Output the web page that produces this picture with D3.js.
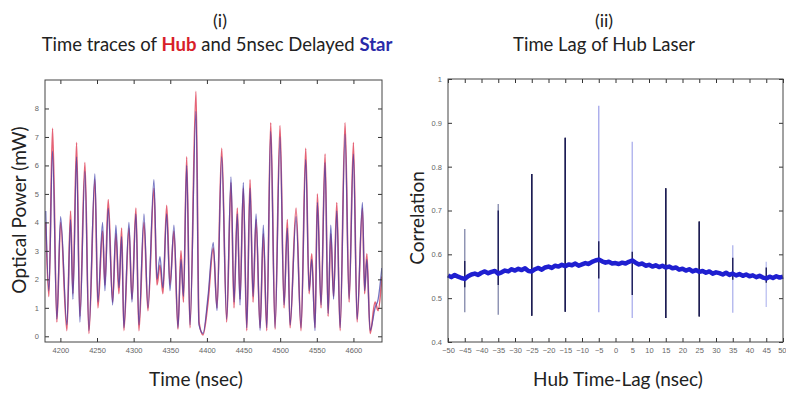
<!DOCTYPE html>
<html>
<head>
<meta charset="utf-8">
<script src="https://cdn.jsdelivr.net/npm/d3@7"></script>
<style>
  body { margin: 0; background: #fff; }
  svg { display: block; }
  .tick text { font-family: "Liberation Sans", sans-serif; font-size: 7.5px; fill: #666; }
  .lbl { font-family: Lato, "Open Sans", sans-serif; fill: #222; }
</style>
</head>
<body>
<svg id="chart" width="786" height="401"></svg>
<script>
// ---- panel (i): local extremes of the two traces ----
const traceTime = [4180, 4184.3, 4189.3, 4195.2, 4200.3, 4208.9, 4213.9, 4217.1, 4222.1, 4226.6,
  4233.5, 4238.9, 4247.1, 4251.2, 4257.6, 4260.8, 4265.3, 4271.3, 4275.8, 4279.9,
  4283.6, 4286.7, 4293.6, 4297.7, 4303.1, 4307.2, 4314.1, 4319.5, 4327.7, 4331.8,
  4335.9, 4340, 4345.1, 4349.6, 4355, 4360.5, 4364.6, 4368, 4372.4, 4376.9,
  4385.1, 4389.2, 4394.7, 4401.5, 4408.7, 4413.8, 4420.2, 4427, 4432.9, 4437,
  4441.5, 4445.2, 4449.7, 4454.4, 4458.9, 4463, 4467.1, 4472.6, 4477, 4481.7,
  4487.1, 4493, 4499.8, 4505.3, 4509.8, 4513.5, 4521.7, 4528.5, 4534.9, 4539.5,
  4543.1, 4547.6, 4550.8, 4555.8, 4561.3, 4565.4, 4569.1, 4572.9, 4577.3, 4581.8,
  4588.6, 4594.1, 4600, 4605, 4612.3, 4615.3, 4618.3, 4622.8, 4629.6, 4633.7, 4638.8];

const hubPower = [4.0, 1.4, 7.3, 0.5, 4.0, 0.2, 4.4, 1.5, 6.8, 0.7,
  6.1, 0.1, 5.5, 1.0, 3.7, 1.8, 4.8, 1.2, 3.6, 1.5,
  3.8, 0.2, 3.8, 1.3, 4.5, 0.2, 4.0, 0.9, 5.2, 1.8,
  2.5, 1.5, 4.6, 1.8, 3.7, 0.25, 3.0, 1.2, 6.3, 0.3,
  8.6, 0.5, 0.05, 1.2, 3.1, 1.0, 6.6, 0.5, 5.4, 1.0,
  4.5, 1.3, 5.2, 0.2, 5.5, 1.2, 4.1, 0.3, 3.6, 0.2,
  7.5, 0.25, 7.4, 1.0, 4.1, 0.3, 4.5, 0.2, 6.6, 1.5,
  2.9, 0.3, 5.0, 1.0, 6.4, 0.7, 3.6, 1.4, 4.7, 0.2,
  7.5, 1.2, 6.8, 0.5, 4.5, 1.5, 2.9, 0.1, 1.2, 0.9, 2.1];

const starPower = [4.4, 1.6, 6.5, 0.6, 4.2, 0.4, 4.1, 1.3, 6.3, 0.5,
  5.8, 0.2, 5.7, 1.2, 4.0, 1.6, 4.5, 1.1, 3.9, 1.7,
  3.5, 0.3, 4.0, 1.2, 4.3, 0.4, 4.3, 1.0, 5.5, 2.0,
  2.8, 1.7, 4.3, 1.6, 3.9, 0.3, 2.7, 1.4, 6.0, 0.4,
  7.9, 0.4, 0.1, 1.4, 3.3, 0.9, 6.3, 0.6, 5.6, 1.2,
  4.3, 1.1, 5.4, 0.3, 5.2, 1.4, 4.3, 0.2, 3.9, 0.3,
  7.2, 0.3, 7.0, 1.1, 3.8, 0.4, 4.2, 0.3, 6.2, 1.6,
  2.7, 0.2, 4.7, 1.1, 6.1, 0.8, 3.9, 1.3, 4.4, 0.3,
  7.1, 1.3, 6.4, 0.6, 4.7, 1.6, 2.7, 0.2, 1.0, 1.3, 2.4];

const timeTicks = [4200, 4250, 4300, 4350, 4400, 4450, 4500, 4550, 4600];
const powerTicks = [0, 1, 2, 3, 4, 5, 6, 7, 8];

// ---- panel (ii): correlation vs lag ----
const lags = d3.range(-50, 51);
const baseCorr = [0.552, 0.548, 0.553, 0.549, 0.546, 0.544,
  0.550, 0.554, 0.556, 0.553, 0.558,
  0.561, 0.557, 0.560, 0.562, 0.556,
  0.559, 0.563, 0.561, 0.566, 0.563,
  0.567, 0.564, 0.568, 0.562, 0.561,
  0.566, 0.569, 0.565, 0.570, 0.572,
  0.569, 0.574, 0.572, 0.576, 0.573,
  0.577, 0.575, 0.579, 0.574, 0.577,
  0.580, 0.578, 0.583, 0.586, 0.588,
  0.584, 0.581, 0.583, 0.579, 0.580,
  0.578, 0.581, 0.579, 0.583, 0.586,
  0.581, 0.577, 0.579, 0.574, 0.576,
  0.572, 0.575, 0.571, 0.574, 0.570,
  0.572, 0.568, 0.570, 0.565, 0.567,
  0.563, 0.566, 0.561, 0.564, 0.560,
  0.562, 0.558, 0.561, 0.556, 0.559,
  0.557, 0.554, 0.558, 0.553, 0.556,
  0.552, 0.555, 0.551, 0.554, 0.550,
  0.552, 0.548, 0.551, 0.547, 0.545,
  0.549, 0.546, 0.550, 0.547, 0.549];

const spikeLag = [-45, -35, -25, -15, -5, 5, 15, 25, 35, 45];
const spikeTop = [0.658, 0.715, 0.783, 0.866, 0.939, 0.857, 0.751, 0.675, 0.621, 0.583];
const spikeBottom = [0.468, 0.462, 0.460, 0.469, 0.468, 0.455, 0.455, 0.458, 0.467, 0.480];
const coreTop = [0.585, 0.700, 0.783, 0.866, 0.630, 0.606, 0.751, 0.675, 0.592, 0.570];
const coreBottom = [0.525, 0.530, 0.460, 0.469, 0.545, 0.507, 0.455, 0.458, 0.542, 0.535];
const spikeColor = ["#8a8fb0", "#8a8fb0", "#2a2a40", "#2a2a48", "#a9acec", "#b0b4ee", "#24243a", "#30303e", "#b4b8ee", "#c0c4f2"];

const lagTicks = d3.range(-50, 51, 5);
const corrTicks = [0.4, 0.5, 0.6, 0.7, 0.8, 0.9, 1];

const svg = d3.select("#chart");
svg.append("rect").attr("width", 786).attr("height", 401).attr("fill", "#fff");

function frame(g, x, y, xt, yt, xfmt, yfmt) {
  const [x0, x1] = x.range(), [y0, y1] = y.range();
  g.append("g").attr("transform", `translate(0,${y0})`)
    .call(d3.axisBottom(x).tickValues(xt).tickSize(-4).tickPadding(6).tickFormat(xfmt));
  g.append("g").attr("transform", `translate(0,${y1})`)
    .call(d3.axisTop(x).tickValues(xt).tickSize(-4).tickFormat(""));
  g.append("g").attr("transform", `translate(${x0},0)`)
    .call(d3.axisLeft(y).tickValues(yt).tickSize(-4).tickPadding(6).tickFormat(yfmt));
  g.append("g").attr("transform", `translate(${x1},0)`)
    .call(d3.axisRight(y).tickValues(yt).tickSize(-4).tickFormat(""));
  g.selectAll(".domain").remove();
  g.selectAll(".tick line").attr("stroke", "#333");
  g.append("rect").attr("x", x0).attr("y", y1).attr("width", x1 - x0).attr("height", y0 - y1)
    .attr("fill", "none").attr("stroke", "#444").attr("stroke-width", 1);
}

// ---- panel (i) ----
const x1s = d3.scaleLinear().domain([4179, 4639]).range([45, 382]);
const y1s = d3.scaleLinear().domain([-0.2, 9]).range([342, 80]);
const g1 = svg.append("g");
g1.append("defs").append("clipPath").attr("id", "c1").append("rect")
  .attr("x", 45).attr("y", 80).attr("width", 337).attr("height", 262);
const traceLine = v => d3.line().x((d, i) => x1s(traceTime[i])).y(d => y1s(d)).curve(d3.curveMonotoneX)(v);
const plot1 = g1.append("g").attr("clip-path", "url(#c1)");
plot1.append("path").attr("d", traceLine(hubPower)).attr("fill", "none")
  .attr("stroke", "#e0485e").attr("stroke-width", 1.6).attr("stroke-opacity", 0.85);
plot1.append("path").attr("d", traceLine(starPower)).attr("fill", "none")
  .attr("stroke", "#3a3aa8").attr("stroke-width", 1.3).attr("stroke-opacity", 0.7);
frame(g1, x1s, y1s, timeTicks, powerTicks, d3.format("d"), d3.format("d"));

// ---- panel (ii) ----
const x2s = d3.scaleLinear().domain([-50, 50]).range([448, 783]);
const y2s = d3.scaleLinear().domain([0.4, 1]).range([342, 79]);
const g2 = svg.append("g");
g2.selectAll("line.spike").data(spikeLag).join("line").attr("class", "spike")
  .attr("x1", d => x2s(d)).attr("x2", d => x2s(d))
  .attr("y1", (d, i) => y2s(spikeTop[i])).attr("y2", (d, i) => y2s(spikeBottom[i]))
  .attr("stroke", (d, i) => spikeColor[i]).attr("stroke-width", 1.4);
g2.selectAll("line.core").data(spikeLag).join("line").attr("class", "core")
  .attr("x1", d => x2s(d)).attr("x2", d => x2s(d))
  .attr("y1", (d, i) => y2s(coreTop[i])).attr("y2", (d, i) => y2s(coreBottom[i]))
  .attr("stroke", "#1c1c58").attr("stroke-width", 1.4);
g2.append("path").datum(baseCorr)
  .attr("d", d3.line().x((d, i) => x2s(lags[i])).y(d => y2s(d)))
  .attr("fill", "none").attr("stroke", "#1f1fd0").attr("stroke-width", 4.5).attr("stroke-linejoin", "round");
frame(g2, x2s, y2s, lagTicks, corrTicks, d3.format("d"), d => d === 1 ? "1" : d3.format(".1f")(d));
// last lag label sits against the page edge
g2.selectAll(".tick text").filter(d => d === 50).attr("text-anchor", "end").attr("dx", 3);

// ---- titles and labels ----
function text(x, y, size, str, rot) {
  const t = svg.append("text").attr("class", "lbl").attr("text-anchor", "middle")
    .attr("font-size", size).attr("transform", `translate(${x},${y})` + (rot ? " rotate(-90)" : ""));
  return t.text(str);
}
text(220, 27, 18, "(i)");
const t1 = svg.append("text").attr("class", "lbl").attr("text-anchor", "middle")
  .attr("font-size", 18.5).attr("x", 217).attr("y", 51);
t1.append("tspan").text("Time traces of ");
t1.append("tspan").text("Hub").attr("fill", "#d81e2a").attr("font-weight", "bold");
t1.append("tspan").text(" and 5nsec Delayed ");
t1.append("tspan").text("Star").attr("fill", "#2a2aa8").attr("font-weight", "bold");
text(604, 27, 18, "(ii)");
text(604, 51, 18.5, "Time Lag of Hub Laser");
text(26, 210, 19, "Optical Power (mW)", true);
text(196, 386, 19, "Time (nsec)");
text(424, 218, 19, "Correlation", true);
text(618, 386, 19, "Hub Time-Lag (nsec)");
</script>
</body>
</html>
